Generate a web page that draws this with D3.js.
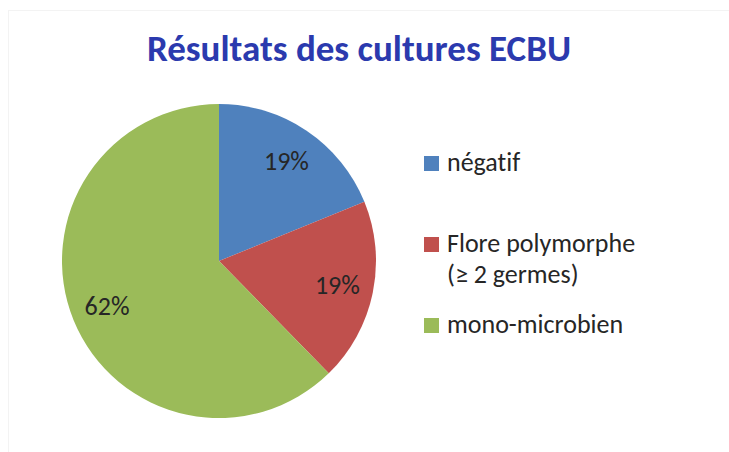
<!DOCTYPE html>
<html>
<head>
<meta charset="utf-8">
<script src="https://cdn.jsdelivr.net/npm/d3@7"></script>
<style>
  body { margin: 0; background: #fff; }
  text { font-family: Carlito, Calibri, Lato, sans-serif; font-variant-ligatures: none; }
</style>
</head>
<body>
<svg width="729" height="452"></svg>
<script>
const categories = ['négatif', 'Flore polymorphe\n(≥ 2 germes)', 'mono-microbien']
const counts = [13, 13, 43]
const colors = ['#4F81BD', '#C0504D', '#9BBB59']

const svg = d3.select('svg')
let cx = 219
let cy = 261
let radius = 157

// faint chart frame
svg.append('rect')
  .attr('x', 8.5).attr('y', 10.5)
  .attr('width', 740).attr('height', 460)
  .attr('fill', 'none')
  .attr('stroke', '#f3f3f3')

svg.append('text')
  .attr('x', 359).attr('y', 61)
  .attr('text-anchor', 'middle')
  .attr('font-size', '37px')
  .attr('font-weight', 'bold')
  .attr('fill', '#2B3AAE')
  .text('Résultats des cultures ECBU')

let total = d3.sum(counts)
let pie = d3.pie().sort(null).value(d => d)
let arc = d3.arc().innerRadius(0).outerRadius(radius)
let labelArc = d3.arc().innerRadius(radius * 0.77).outerRadius(radius * 0.77)
let pct = d3.format('.0%')

let g = svg.append('g').attr('transform', `translate(${cx},${cy})`)
let slices = pie(counts)

g.selectAll('path').data(slices).enter().append('path')
  .attr('d', arc)
  .attr('fill', (d, i) => colors[i])

g.selectAll('text.lbl').data(slices).enter().append('text')
  .attr('class', 'lbl')
  .attr('transform', d => `translate(${labelArc.centroid(d)})`)
  .attr('dy', '0.34em')
  .attr('text-anchor', 'middle')
  .attr('font-size', '26px')
  .attr('fill', '#262626')
  .text(d => pct(d.value / total))

// legend
let legendY = [156, 237, 318]
let legend = svg.append('g')
categories.forEach((name, i) => {
  legend.append('rect')
    .attr('x', 424).attr('y', legendY[i])
    .attr('width', 15).attr('height', 15)
    .attr('fill', colors[i])
  let t = legend.append('text')
    .attr('x', 447).attr('y', legendY[i] + 15)
    .attr('font-size', '26px')
    .attr('fill', '#262626')
  name.split('\n').forEach((line, j) => {
    t.append('tspan')
      .attr('x', 447)
      .attr('dy', j === 0 ? 0 : 31)
      .text(line)
  })
})
</script>
</body>
</html>
